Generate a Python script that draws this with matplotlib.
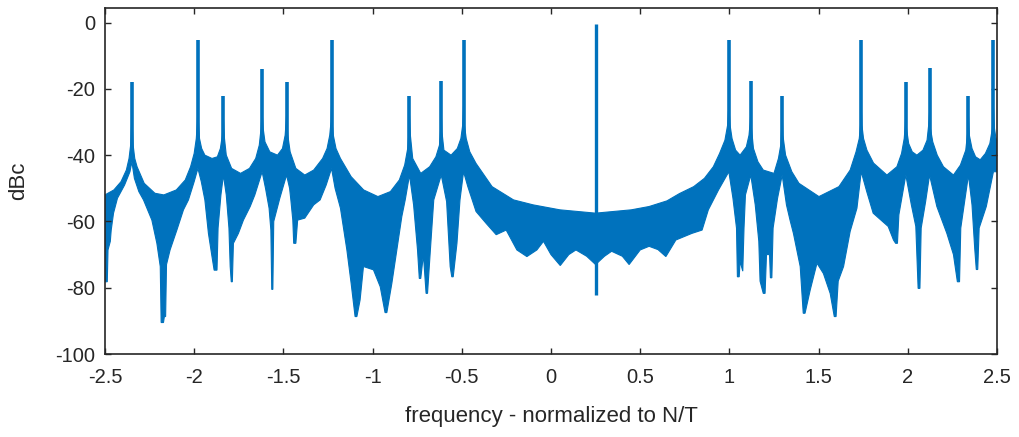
import numpy as np
import matplotlib.pyplot as plt
from matplotlib.ticker import FormatStrFormatter

plt.rcParams['font.family'] = ['Liberation Sans', 'DejaVu Sans']
plt.rcParams['axes.unicode_minus'] = False

# upper edge of the dense spectrum band (freq, dBc)
hi_f = [-2.5, -2.45, -2.41, -2.38, -2.365, -2.356, -2.352, -2.349, -2.346, -2.342,
        -2.333, -2.32, -2.28, -2.22, -2.17, -2.10, -2.05, -2.02, -2.00, -1.988,
        -1.982, -1.979, -1.976, -1.970, -1.958, -1.94, -1.90, -1.87, -1.853, -1.842,
        -1.836, -1.830, -1.82, -1.79, -1.74, -1.69, -1.655, -1.635, -1.625, -1.619,
        -1.613, -1.603, -1.576, -1.533, -1.505, -1.490, -1.482, -1.475, -1.462, -1.43,
        -1.38, -1.33, -1.28, -1.255, -1.240, -1.233, -1.230, -1.227, -1.220, -1.205,
        -1.18, -1.12, -1.05, -0.97, -0.90, -0.85, -0.82, -0.803, -0.796, -0.793,
        -0.788, -0.775, -0.73, -0.68, -0.645, -0.625, -0.618, -0.615, -0.611, -0.600,
        -0.56, -0.525, -0.505, -0.495, -0.490, -0.485, -0.475, -0.455, -0.42, -0.33,
        -0.21, -0.10, 0.05, 0.25, 0.45, 0.55, 0.65, 0.72, 0.80, 0.86,
        0.91, 0.945, 0.975, 0.99, 0.997, 1.004, 1.015, 1.035, 1.06, 1.095,
        1.110, 1.117, 1.120, 1.124, 1.135, 1.16, 1.19, 1.25, 1.275, 1.288,
        1.293, 1.296, 1.300, 1.315, 1.35, 1.39, 1.502, 1.614, 1.677, 1.71,
        1.728, 1.735, 1.739, 1.743, 1.752, 1.771, 1.808, 1.883, 1.939, 1.965,
        1.980, 1.986, 1.989, 1.993, 2.005, 2.025, 2.051, 2.085, 2.108, 2.117,
        2.122, 2.127, 2.14, 2.165, 2.20, 2.256, 2.295, 2.325, 2.336, 2.340,
        2.345, 2.36, 2.38, 2.406, 2.435, 2.46, 2.474, 2.480, 2.486, 2.493,
        2.5]
hi_db = [-52, -50.5, -48, -44.5, -41, -37, -32, -28, -32, -37,
         -41, -43.5, -48.5, -51.5, -52, -50.5, -47.5, -43.5, -39.5, -35,
         -30, -25, -30, -35, -38, -40, -41, -40.5, -38, -34,
         -29, -35, -40, -44, -45.5, -44, -41, -37, -32, -27,
         -32, -36, -39, -40, -38, -34, -28, -34, -39, -44,
         -46, -44.5, -41, -38, -34, -30, -25, -30, -34, -38,
         -41, -46.5, -50.5, -52.5, -51, -47.5, -43, -38, -33, -28,
         -34, -41, -45.5, -43.5, -40.5, -37, -32, -27, -33, -38.5,
         -40, -38, -35, -31, -25, -31, -35, -39, -42.5, -49.5,
         -53.5, -55, -56.5, -57.5, -56.5, -55.5, -53.8, -51.6, -49.5, -47,
         -43.5, -39.5, -35.5, -31, -25, -31, -35, -38.5, -40, -37.5,
         -34, -30, -27, -32, -38, -42, -44.5, -45.5, -41, -37,
         -32, -28, -34, -40, -45, -48.5, -52.5, -49.5, -44.5, -39,
         -35, -31, -25, -31, -35, -38.5, -42.4, -46, -43.5, -39.5,
         -35, -31, -27, -32, -36.5, -39, -40, -38.5, -35.5, -31,
         -27, -32, -36, -40, -43.5, -46, -43, -38.5, -33, -28,
         -34, -38, -40.5, -41.4, -39.5, -36.5, -32, -25, -32, -34.5,
         -36]

# lower edge of the band (freq, dBc)
lo_f = [-2.5, -2.487, -2.483, -2.47, -2.465, -2.452, -2.43, -2.39, -2.36, -2.349,
        -2.335, -2.31, -2.284, -2.237, -2.209, -2.19, -2.185, -2.172, -2.167, -2.160,
        -2.155, -2.135, -2.097, -2.06, -2.032, -2.0, -1.979, -1.96, -1.94, -1.92,
        -1.90, -1.888, -1.872, -1.866, -1.85, -1.836, -1.82, -1.805, -1.798, -1.792,
        -1.786, -1.78, -1.752, -1.724, -1.686, -1.66, -1.619, -1.60, -1.58, -1.570,
        -1.565, -1.559, -1.554, -1.52, -1.482, -1.465, -1.458, -1.447, -1.442, -1.430,
        -1.42, -1.38, -1.33, -1.294, -1.26, -1.230, -1.21, -1.18, -1.144, -1.12,
        -1.098, -1.088, -1.07, -1.051, -0.995, -0.957, -0.930, -0.920, -0.892, -0.864,
        -0.836, -0.817, -0.793, -0.77, -0.748, -0.738, -0.730, -0.715, -0.700, -0.692,
        -0.676, -0.657, -0.615, -0.585, -0.565, -0.556, -0.548, -0.527, -0.510, -0.490,
        -0.466, -0.42, -0.363, -0.307, -0.251, -0.191, -0.135, -0.079, -0.042, 0.0,
        0.052, 0.10, 0.14, 0.20, 0.25, 0.30, 0.34, 0.40, 0.438, 0.50,
        0.55, 0.60, 0.644, 0.70, 0.79, 0.847, 0.882, 0.939, 0.997, 1.02,
        1.04, 1.045, 1.055, 1.06, 1.075, 1.082, 1.09, 1.120, 1.145, 1.165,
        1.172, 1.19, 1.20, 1.208, 1.225, 1.230, 1.238, 1.245, 1.27, 1.296,
        1.32, 1.34, 1.359, 1.397, 1.414, 1.424, 1.453, 1.491, 1.527, 1.565,
        1.588, 1.598, 1.61, 1.640, 1.677, 1.715, 1.739, 1.77, 1.806, 1.85,
        1.89, 1.92, 1.932, 1.942, 1.95, 1.989, 2.02, 2.045, 2.058, 2.068,
        2.075, 2.10, 2.122, 2.163, 2.219, 2.256, 2.278, 2.29, 2.297, 2.340,
        2.36, 2.375, 2.384, 2.392, 2.40, 2.44, 2.48, 2.5]
lo_db = [-78.2, -78.2, -68.6, -66, -62.6, -57.5, -53, -49, -45, -42,
         -47, -51, -53.5, -59.6, -66.6, -73.6, -90.5, -90.5, -88.7, -88.7,
         -73, -68.6, -62.6, -56.5, -53.5, -48, -44, -48, -53.5, -63.6,
         -70.6, -74.7, -74.7, -62, -52, -46, -52, -62, -73.6, -78.2,
         -78.2, -66.6, -63.6, -59.6, -55.5, -52, -45, -50, -56, -62.6,
         -80.5, -80.5, -60, -53, -46, -50, -53.5, -59.6, -66.6, -66.6,
         -59.6, -59, -55, -53.5, -49, -44, -50, -56, -68.6, -78.7,
         -88.7, -88.7, -83.7, -73.6, -74.6, -79.7, -87.5, -87.5, -78.7, -68.6,
         -58.5, -53.5, -46, -55, -68.6, -77.2, -77.2, -70, -81.7, -81.7,
         -68.6, -53.5, -46, -54, -73.6, -76.7, -76.7, -66.6, -53.5, -45,
         -49.5, -57, -60.6, -64, -62.6, -68.6, -70.6, -68.6, -66, -70,
         -73.3, -70, -68.6, -70.5, -73, -70.5, -69, -70.5, -73, -68.6,
         -67.5, -68.5, -70.6, -65.6, -63.6, -62.6, -56.5, -50.5, -45, -53,
         -62, -76.7, -76.7, -72, -75, -62, -52, -46, -55, -66,
         -78, -81.7, -81.7, -70, -70, -77, -77, -62, -53, -46,
         -55, -59.6, -63.6, -73.6, -87.7, -87.7, -80.7, -72.6, -75.7, -81.7,
         -88.7, -88.7, -78, -73.6, -63, -56, -45, -51, -57.5, -59.6,
         -61.5, -65.6, -66.6, -66.6, -58, -46, -55, -61.5, -80.2, -80.2,
         -62, -54, -46, -55.5, -63.6, -70, -78.2, -78.2, -62, -46,
         -55, -68, -74.5, -74.5, -62, -55.5, -45, -45]

# spurs (thin spikes) and the carrier
spur_f = [-2.349, -1.979, -1.836, -1.619, -1.482, -1.230, -0.793, -0.615, -0.490,
          0.997, 1.120, 1.296, 1.739, 1.989, 2.122, 2.340, 2.480]
spur_db = [-17.9, -5.2, -22.1, -14.0, -18.0, -5.3, -22.3, -17.6, -5.3,
           -5.3, -17.6, -22.3, -5.3, -18.0, -13.8, -22.1, -5.3]
carrier_f = 0.252
carrier_top = -0.4
carrier_bottom = -82.2

blue = '#0072BD'
dark = '#262626'

fig = plt.figure(figsize=(10.19, 4.37), dpi=100)
ax = fig.add_axes([0.1030, 0.1899, 0.8754, 0.7918])

poly_x = np.concatenate([hi_f, lo_f[::-1]])
poly_y = np.concatenate([hi_db, lo_db[::-1]])
ax.fill(poly_x, poly_y, color=blue, lw=0.8, ec=blue)
ax.vlines(spur_f, -40, spur_db, color=blue, lw=2.6)
ax.vlines([carrier_f], carrier_bottom, carrier_top, color=blue, lw=2.4)

ax.set_xlim(-2.5, 2.5)
ax.set_ylim(-100, 4.4)
ax.set_xticks(np.arange(-2.5, 2.51, 0.5))
ax.set_yticks(np.arange(-100, 1, 20))
ax.xaxis.set_major_formatter(FormatStrFormatter('%g'))
ax.yaxis.set_major_formatter(FormatStrFormatter('%g'))
ax.tick_params(direction='in', top=True, right=True, length=4.5, width=1.0,
               colors=dark, labelsize=14.5)
ax.tick_params(axis='x', pad=10)
ax.tick_params(axis='y', pad=7)
for s in ax.spines.values():
    s.set_color(dark)
    s.set_linewidth(1.2)

ax.set_xlabel('frequency - normalized to N/T', fontsize=16, color=dark, labelpad=14)
ax.set_ylabel('dBc', fontsize=16, color=dark, labelpad=19)

fig.savefig('out.png', dpi=100)
